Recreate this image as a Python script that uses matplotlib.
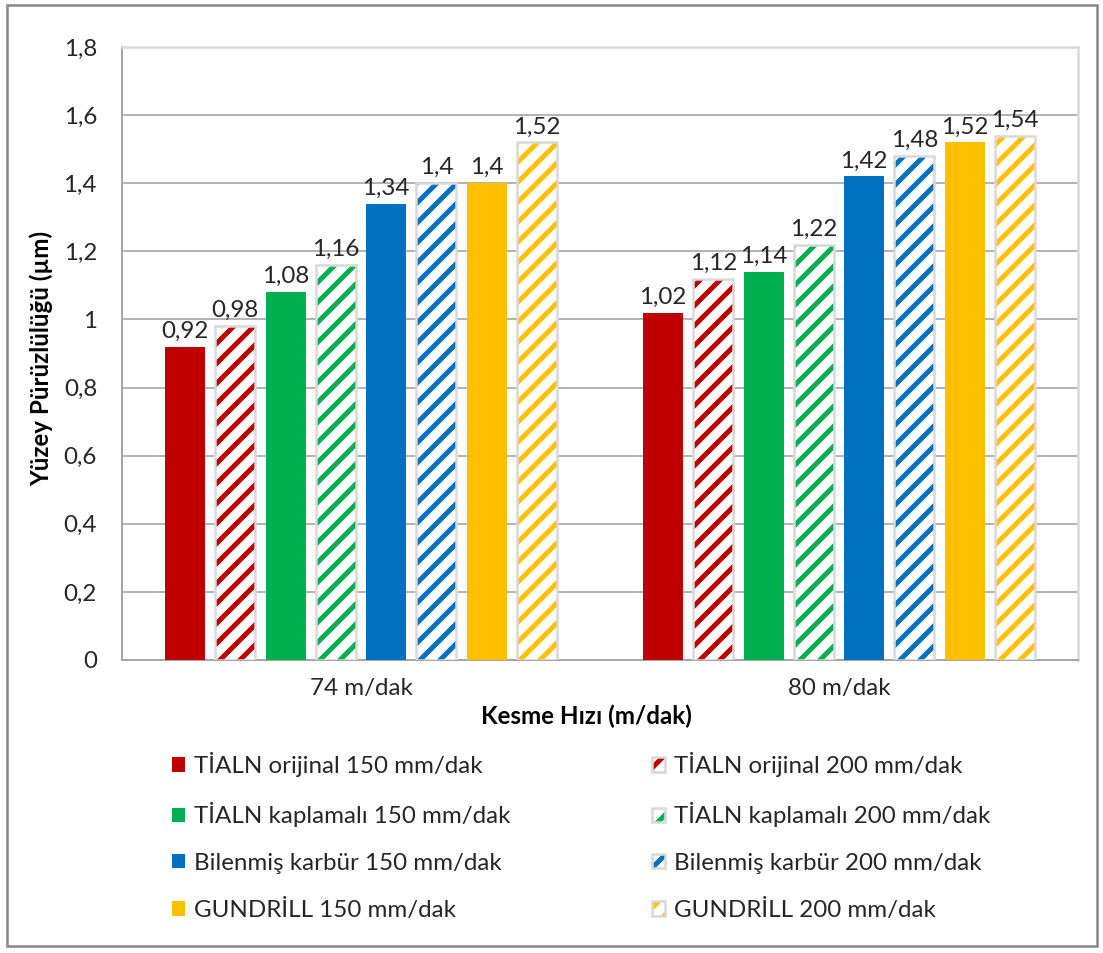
import matplotlib
matplotlib.use("Agg")
from matplotlib import pyplot as plt
from matplotlib.patches import Patch, Rectangle
import numpy as np

plt.rcParams['font.family'] = ['Lato', 'DejaVu Sans']
plt.rcParams['hatch.linewidth'] = 3.0

DPI = 120
W, H = 1103, 953

# data
categories = ["74 m/dak", "80 m/dak"]
series_names = ["TİALN orijinal", "TİALN kaplamalı", "Bilenmiş karbür", "GUNDRİLL"]
feeds = ["150 mm/dak", "200 mm/dak"]
colors = ["#C00000", "#00B050", "#0070C0", "#FFC000"]

tialn_orj_150 = [0.92, 1.02]
tialn_orj_200 = [0.98, 1.12]
tialn_kap_150 = [1.08, 1.14]
tialn_kap_200 = [1.16, 1.22]
bilenmis_150 = [1.34, 1.42]
bilenmis_200 = [1.40, 1.48]
gundrill_150 = [1.40, 1.52]
gundrill_200 = [1.52, 1.54]

values = [
    (tialn_orj_150, tialn_orj_200),
    (tialn_kap_150, tialn_kap_200),
    (bilenmis_150, bilenmis_200),
    (gundrill_150, gundrill_200),
]

yticks = np.arange(0, 1.81, 0.2)

TXT = "#262626"
FS = 14.5
GRAY_EDGE = "#D9D9D9"


def fmt(v):
    return f"{v:g}".replace(".", ",")


def px_x(p):
    return p / W


def px_y(p):
    return 1 - p / H


fig = plt.figure(figsize=(W / DPI, H / DPI), dpi=DPI)
ax = fig.add_axes([px_x(122), px_y(660), px_x(1078) - px_x(122), px_y(47) - px_y(660)])

x = np.arange(len(categories))
bw = 40 / 478
step = 50.3 / 478

k = 0
for i, (v150, v200) in enumerate(values):
    c = colors[i]
    off = (k - 3.5) * step
    ax.bar(x + off, v150, bw, color=c, linewidth=0, zorder=3)
    for xi, v in zip(x + off, v150):
        ax.annotate(fmt(v), (xi, v), xytext=(0, 3), textcoords="offset points",
                    ha="center", va="bottom", fontsize=FS, color=TXT)
    k += 1
    off = (k - 3.5) * step
    ax.bar(x + off, v200, bw, facecolor="white", edgecolor=c, hatch="//",
           linewidth=0, zorder=3)
    ax.bar(x + off, v200, bw, fill=False, edgecolor=GRAY_EDGE, linewidth=1.5, zorder=4)
    for xi, v in zip(x + off, v200):
        ax.annotate(fmt(v), (xi, v), xytext=(0, 3), textcoords="offset points",
                    ha="center", va="bottom", fontsize=FS, color=TXT)
    k += 1

ax.set_xlim(-0.5, 1.5)
ax.set_ylim(0, 1.8)
ax.set_yticks(yticks)
ax.set_yticklabels([fmt(round(t, 1)) for t in yticks])
ax.set_xticks(x)
ax.set_xticklabels(categories)
ax.tick_params(axis="y", length=0, pad=15, labelsize=FS, labelcolor=TXT)
ax.tick_params(axis="x", length=0, pad=11, labelsize=FS, labelcolor=TXT)
ax.yaxis.grid(True, color="#A6A6A6", linewidth=1.0, zorder=0)
ax.set_axisbelow(True)
for s in ["top", "right"]:
    ax.spines[s].set_color(GRAY_EDGE)
    ax.spines[s].set_linewidth(1.5)
for s in ["left", "bottom"]:
    ax.spines[s].set_color("#A6A6A6")
    ax.spines[s].set_linewidth(1.2)

fig.text(px_x(586), px_y(716), "Kesme Hızı (m/dak)", ha="center", va="center",
         fontsize=14.5, fontweight="bold", color="black")
fig.text(px_x(41), px_y(358), "Yüzey Pürüzlülüğü (µm)", ha="center", va="center",
         rotation=90, fontsize=14.5, fontweight="bold", color="black")

# legend: solid bars on the left, hatched bars on the right
h150 = [Patch(facecolor=c, linewidth=0) for c in colors]
h200 = [(Patch(facecolor="white", edgecolor=c, hatch="//", linewidth=0),
         Patch(fill=False, edgecolor=GRAY_EDGE, linewidth=1.5)) for c in colors]
leg_kw = dict(frameon=False, fontsize=FS, labelcolor=TXT, handlelength=0.55,
              handleheight=0.55, handletextpad=0.35, labelspacing=1.05,
              borderaxespad=0, borderpad=0, loc="upper left",
              bbox_transform=fig.transFigure)
leg1 = fig.legend(h150, [f"{n} {feeds[0]}" for n in series_names],
                  bbox_to_anchor=(px_x(172), px_y(752)), **leg_kw)
leg2 = fig.legend(h200, [f"{n} {feeds[1]}" for n in series_names],
                  bbox_to_anchor=(px_x(652), px_y(752)), **leg_kw)

fig.add_artist(Rectangle((px_x(7), px_y(946)), px_x(1097) - px_x(7), px_y(5) - px_y(946),
                         transform=fig.transFigure, fill=False, edgecolor="#868686",
                         linewidth=1.5))

fig.savefig("out.png", dpi=DPI, facecolor="white")
